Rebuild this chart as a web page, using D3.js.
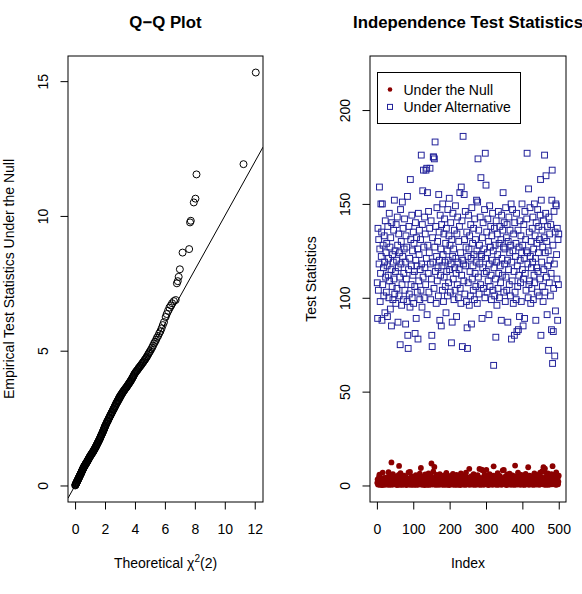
<!DOCTYPE html>
<html>
<head>
<meta charset="utf-8">
<style>
    body { margin: 0; background: #fff; }
    svg { font-family: "Liberation Sans", Arial, sans-serif; }
    .box { fill: none; stroke: #000; stroke-width: 1 }
    .qqpt { fill: none; stroke: #000; stroke-width: 1 }
    .nullpt { fill: #8b0000 }
    .altpt { fill: none; stroke: #22229a; stroke-width: 1 }
</style>
</head>
<body>
<svg id="chart" width="582" height="594"></svg>
<script src="https://cdn.jsdelivr.net/npm/d3@7"></script>
<script>
// ---- Q-Q plot data (sorted theoretical vs sorted empirical) ----
let qqTheoretical = [
    0.01,0.02,0.04,0.05,0.06,0.08,0.09,0.11,0.12,0.13,0.15,0.17,0.18,0.19,0.21,0.23,0.24,0.26,0.27,0.29,
    0.30,0.32,0.34,0.35,0.37,0.39,0.40,0.42,0.43,0.45,0.47,0.48,0.50,0.52,0.54,0.55,0.57,0.59,0.60,0.62,
    0.64,0.66,0.68,0.69,0.71,0.73,0.75,0.77,0.79,0.81,0.83,0.85,0.87,0.89,0.91,0.93,0.96,0.98,
    1.00,1.02,1.05,1.07,1.09,1.12,1.14,1.16,1.19,1.21,1.23,1.26,1.28,1.30,1.33,1.35,1.38,1.40,1.42,1.45,
    1.47,1.50,1.52,1.54,1.57,1.59,1.62,1.64,1.66,1.69,1.71,1.73,1.76,1.78,1.80,1.83,1.85,1.87,1.89,1.91,
    1.93,1.95,1.96,1.98,1.99,
    2.01,2.04,2.06,2.09,2.12,2.14,2.17,2.20,2.22,2.25,2.28,2.30,2.33,2.36,2.38,2.41,2.44,2.47,2.49,2.52,
    2.55,2.57,2.60,2.63,2.65,2.68,2.71,2.73,2.76,2.79,2.81,2.84,2.87,2.89,2.92,2.94,2.97,2.99,
    3.02,3.05,3.08,3.11,3.14,3.17,3.20,3.23,3.27,3.30,3.33,3.36,3.40,3.43,3.46,3.49,3.52,3.55,3.58,3.61,
    3.64,3.67,3.70,3.73,3.76,3.79,3.82,3.85,3.88,3.91,3.94,3.98,
    4.02,4.06,4.10,4.14,4.19,4.23,4.27,4.31,4.36,4.40,4.45,4.49,4.54,4.58,4.63,4.67,4.72,4.76,4.81,4.86,
    4.91,4.96,
    5.02,5.08,5.15,5.21,5.28,5.34,5.41,5.47,5.55,5.62,5.70,5.78,5.86,5.94,
    6.05,6.12,6.21,6.30,6.40,6.48,6.60,6.72,
    6.80,6.86,6.92,7.00,7.18,7.62,7.68,7.73,7.93,8.04,8.11,11.25,12.07]

let qqEmpirical = [
    0.00,0.02,0.03,0.05,0.07,0.08,0.10,0.12,0.13,0.15,0.17,0.18,0.20,0.22,0.23,0.26,0.27,0.29,0.31,0.33,
    0.35,0.36,0.39,0.40,0.42,0.44,0.46,0.48,0.50,0.52,0.54,0.56,0.58,0.60,0.63,0.64,0.66,0.68,0.70,0.71,
    0.73,0.75,0.77,0.78,0.80,0.82,0.83,0.85,0.87,0.89,0.91,0.93,0.95,0.97,0.99,1.01,1.04,1.06,
    1.08,1.10,1.12,1.14,1.16,1.18,1.20,1.22,1.24,1.26,1.28,1.31,1.33,1.35,1.38,1.40,1.43,1.45,1.48,1.51,
    1.53,1.56,1.59,1.61,1.64,1.67,1.69,1.72,1.75,1.78,1.81,1.84,1.87,1.90,1.92,1.95,1.98,2.01,2.04,2.06,
    2.09,2.11,2.13,2.16,2.18,
    2.21,2.23,2.27,2.29,2.33,2.37,2.39,2.41,2.45,2.49,2.51,2.53,2.58,2.60,2.62,2.66,2.70,2.72,2.74,2.78,
    2.82,2.84,2.86,2.90,2.94,2.95,2.99,3.03,3.05,3.07,3.11,3.14,3.16,3.18,3.22,3.25,3.26,3.30,
    3.32,3.35,3.37,3.40,3.42,3.45,3.47,3.50,3.52,3.55,3.57,3.60,3.62,3.64,3.67,3.69,3.72,3.74,3.77,3.79,
    3.82,3.84,3.87,3.89,3.92,3.95,3.98,4.01,4.04,4.07,4.11,4.15,
    4.18,4.21,4.24,4.27,4.30,4.34,4.37,4.40,4.43,4.46,4.50,4.53,4.57,4.60,4.64,4.67,4.71,4.75,4.79,4.84,
    4.89,4.94,
    4.99,5.05,5.12,5.19,5.27,5.33,5.40,5.48,5.55,5.64,5.72,5.83,5.95,6.06,
    6.25,6.36,6.48,6.60,6.68,6.76,6.84,6.88,
    7.50,7.58,7.74,8.02,8.64,8.77,9.76,9.82,10.50,10.64,11.54,11.92,15.32]

let qqRefLine = { intercept: 0, slope: 1 }
let qqXTicks = [0, 2, 4, 6, 8, 10, 12]
let qqYTicks = [0, 5, 10, 15]

// ---- Independence test statistics, in index order 1..500 ----
let nullStats = [
    1.4,3.2,0.5,2.1,0.8,4.6,5.8,1.1,0.3,2.7,1.9,0.6,3.5,1.2,0.2,6.9,2.4,0.9,1.6,4.1,0.4,2.9,1.3,0.7,3.8,
    2.2,0.5,1.8,4.4,0.9,3.0,7.1,1.5,0.3,2.6,5.2,1.0,0.7,3.3,12.3,1.9,0.4,2.5,6.1,1.2,0.8,3.9,2.0,0.6,1.4,
    0.9,2.8,4.9,1.3,0.2,3.6,1.7,0.5,2.3,5.7,10.4,1.1,0.4,3.1,6.6,1.8,0.7,2.6,4.0,0.3,1.5,3.4,0.8,2.1,5.3,
    1.0,0.6,2.9,1.6,4.5,0.2,2.4,1.3,3.7,0.9,1.9,7.0,0.5,2.7,1.2,7.2,3.2,0.4,1.8,4.8,0.7,2.3,1.1,3.5,0.3,
    2.0,4.2,0.8,1.5,3.0,0.6,5.5,1.9,0.3,2.6,1.2,4.1,0.9,2.2,0.5,3.8,1.4,6.3,0.7,2.8,9.3,1.0,3.3,0.4,1.7,
    4.7,0.8,2.5,1.3,3.4,0.2,2.0,5.9,1.1,0.6,3.1,1.8,0.4,4.4,2.3,0.9,6.5,1.5,0.3,2.7,3.9,1.0,0.7,5.0,11.7,
    1.6,4.0,0.5,2.1,7.4,1.2,3.6,9.9,0.8,2.4,1.4,0.3,3.2,5.6,0.9,1.9,2.9,0.6,4.3,1.1,0.4,2.6,6.0,1.7,0.8,
    3.0,1.3,0.5,4.8,2.2,0.9,1.6,3.7,0.3,5.4,1.0,2.5,0.7,3.4,1.8,6.7,0.4,2.0,1.2,4.1,0.6,2.8,1.5,0.2,3.3,
    1.1,5.1,0.7,2.3,1.4,3.9,0.5,1.9,6.2,0.9,2.6,1.2,4.5,0.3,1.7,3.1,0.8,2.2,5.7,1.0,0.4,2.9,1.5,4.0,0.6,
    2.4,1.3,3.5,0.2,1.8,6.4,0.9,2.7,1.1,4.6,0.5,2.0,3.2,0.7,1.6,5.3,1.0,0.3,2.5,6.8,1.4,0.8,3.8,1.2,2.1,
    0.6,4.2,1.7,8.9,0.4,2.9,1.1,3.6,0.8,5.0,2.3,0.5,1.5,3.3,0.9,6.1,2.0,1.3,0.3,4.4,1.9,0.7,2.6,3.0,1.2,
    0.5,5.5,2.2,1.0,3.7,0.6,8.8,1.4,2.8,0.3,4.1,1.8,8.4,0.9,2.4,8.1,1.1,3.4,0.4,2.0,5.8,1.5,0.8,3.1,1.3,
    8.3,0.7,2.5,1.6,4.3,0.2,1.9,3.6,1.0,6.0,0.5,2.7,1.3,4.9,0.8,2.1,3.2,0.4,1.5,5.2,10.2,1.1,2.9,0.6,3.8,
    1.7,0.9,4.6,2.2,0.3,1.4,6.6,2.6,1.0,3.5,0.5,1.8,5.1,0.8,2.3,1.2,4.0,0.4,2.9,1.6,8.1,0.7,3.3,8.3,1.1,
    2.0,0.6,4.7,1.5,3.1,0.2,2.4,5.9,1.0,1.8,0.5,3.7,2.7,1.3,6.3,0.8,2.1,4.2,0.4,1.6,3.0,1.1,5.4,0.7,2.5,
    1.4,3.9,0.3,2.2,10.6,1.2,4.8,0.9,2.8,1.7,0.5,3.4,6.9,1.0,2.0,0.6,4.4,1.5,3.2,0.4,2.6,5.6,1.3,0.8,3.6,
    1.9,0.5,2.9,4.5,1.1,0.3,3.5,1.6,6.2,0.7,2.3,1.2,4.1,0.9,2.7,9.7,1.4,0.4,3.0,5.3,1.8,0.6,2.4,1.0,3.8,
    0.7,1.5,4.9,2.1,0.3,3.3,1.2,6.5,0.8,2.6,1.7,4.3,0.5,2.0,1.1,3.6,0.9,5.7,1.4,2.8,0.4,3.9,1.9,6.8,0.6,
    2.5,1.3,4.4,0.8,7.6,1.6,3.1,9.7,0.5,2.2,7.3,9.0,1.0,3.7,0.3,2.0,5.1,1.2,0.7,6.4,2.9,1.5,0.4,3.4,1.8,
    0.9,4.6,2.3,1.1,6.0,0.6,3.0,10.3,1.4,5.5,0.8,2.7,1.9,4.2,0.5,3.2,1.2,7.0,0.4,2.4,1.6,3.9,0.7,2.0,5.2]

let altStats = [
    108,89,137,104,131,118,159,126,98,113,150,122,135,88,150,107,128,116,101,133,119,92,141,111,124,
    103,129,117,90,138,112,121,100,145,109,127,94,132,115,85,140,106,123,99,119,136,110,152,102,125,
    114,97,139,120,105,143,128,87,116,134,101,124,111,75,147,118,130,96,107,151,122,137,99,113,126,
    142,104,119,86,133,110,127,98,154,80,73,115,138,102,121,95,163,131,107,117,144,100,125,112,135,
    97,129,114,106,81,140,120,89,132,117,103,126,78,145,109,123,136,99,115,131,104,176,118,95,139,
    157,111,168,127,100,143,116,134,107,168,121,169,91,156,128,113,146,103,124,137,169,118,99,141,110,
    80,74,132,119,175,175,105,174,127,183,114,138,97,122,148,109,130,116,101,155,135,120,88,144,112,
    126,85,139,117,104,150,123,98,134,111,142,119,106,129,92,137,114,125,101,147,120,108,133,153,115,
    128,103,140,118,76,131,87,122,145,110,126,99,136,116,104,149,121,113,90,134,107,143,119,100,130,
    115,138,156,105,124,97,159,112,141,74,120,186,118,109,155,131,102,146,117,127,98,135,84,73,122,
    108,144,126,96,133,114,101,139,121,86,148,110,129,117,104,137,123,99,142,113,131,106,119,152,125,
    97,151,174,111,136,102,128,118,143,107,164,123,122,89,132,116,140,105,126,113,147,100,177,121,160,
    114,135,103,124,142,109,130,91,118,149,106,127,138,112,99,133,120,145,104,125,64,116,137,101,128,
    110,79,141,119,96,134,123,105,146,113,129,100,138,117,108,131,88,144,121,112,136,156,127,103,140,
    118,126,98,148,111,132,104,139,120,87,130,115,143,107,124,136,101,128,150,78,119,109,147,125,97,
    134,114,80,140,103,122,129,99,145,82,117,106,136,83,112,127,90,141,120,108,133,98,124,150,115,
    128,85,110,139,121,89,146,113,131,104,125,142,177,124,118,100,158,107,135,109,148,122,97,130,116,
    105,137,119,143,99,126,112,150,108,133,121,88,140,116,129,103,147,114,124,138,101,131,110,144,163,
    80,152,119,136,106,127,98,141,115,132,176,103,124,145,165,111,130,91,138,117,125,72,143,108,134,
    120,101,139,113,83,152,168,65,128,82,105,146,118,69,135,93,150,149,123,110,137,88,131,107,134]

let idxTicks = [0, 100, 200, 300, 400, 500]
let statTicks = [0, 50, 100, 150, 200]
let statLimits = [0, 220]
let legendLabels = ["Under the Null", "Under Alternative"]

// ---- layout ----
let svg = d3.select("#chart")
let qqBox = { left: 68, right: 263, top: 56, bottom: 502 }
let ixBox = { left: 370, right: 566, top: 56, bottom: 502 }

// R style: pad the data range by 4% on each side
function pad(lo, hi) {
    let d = (hi - lo) * 0.04
    return [lo - d, hi + d]
}

function drawFrame(box, x, y, xTicks, yTicks, title, xTitle, yTitle, clipId) {
    let g = svg.append("g")

    g.append("clipPath").attr("id", clipId)
        .append("rect")
        .attr("x", box.left).attr("y", box.top)
        .attr("width", box.right - box.left).attr("height", box.bottom - box.top)

    let xa = g.append("g")
        .attr("transform", "translate(0," + box.bottom + ")")
        .call(d3.axisBottom(x).tickValues(xTicks).tickSize(7.5).tickFormat(d3.format("d")))
    let ya = g.append("g")
        .attr("transform", "translate(" + box.left + ",0)")
        .call(d3.axisLeft(y).tickValues(yTicks).tickSize(7.5).tickFormat(d3.format("d")))

    for (let a of [xa, ya]) {
        a.attr("font-size", 14).attr("font-family", null).attr("color", "#000")
        a.select(".domain").remove()
    }
    xa.selectAll("text").attr("y", 32).attr("dy", null)
    // y tick labels are parallel to the axis, as in base R
    ya.selectAll("text")
        .attr("transform", "rotate(-90)")
        .attr("x", 0).attr("y", -20).attr("dy", null)
        .attr("text-anchor", "middle")

    g.append("rect").attr("class", "box")
        .attr("x", box.left).attr("y", box.top)
        .attr("width", box.right - box.left).attr("height", box.bottom - box.top)

    let cx = (box.left + box.right) / 2
    g.append("text")
        .attr("x", cx).attr("y", 28)
        .attr("text-anchor", "middle")
        .attr("font-size", 16.8).attr("font-weight", "bold")
        .text(title)

    let xt = g.append("text")
        .attr("x", cx).attr("y", 568)
        .attr("text-anchor", "middle")
        .attr("font-size", 14)
    xTitle(xt)

    g.append("text")
        .attr("transform", "translate(" + (box.left - 54) + "," + ((box.top + box.bottom) / 2) + ") rotate(-90)")
        .attr("text-anchor", "middle")
        .attr("font-size", 14)
        .text(yTitle)

    return g
}

// ---- left: Q-Q plot ----
let qqX = d3.scaleLinear().domain(pad(...d3.extent(qqTheoretical))).range([qqBox.left, qqBox.right])
let qqY = d3.scaleLinear().domain(pad(...d3.extent(qqEmpirical))).range([qqBox.bottom, qqBox.top])

drawFrame(qqBox, qqX, qqY, qqXTicks, qqYTicks, "Q\u2212Q Plot",
    t => {
        t.append("tspan").text("Theoretical \u03c7")
        t.append("tspan").attr("font-size", 10).attr("dy", -6).text("2")
        t.append("tspan").attr("dy", 6).text("(2)")
    },
    "Empirical Test Statistics Under the Null", "clipQQ")

let qqLayer = svg.append("g").attr("clip-path", "url(#clipQQ)")

let refLine = d3.line()
    .x(d => qqX(d))
    .y(d => qqY(qqRefLine.intercept + qqRefLine.slope * d))

qqLayer.append("path")
    .datum(qqX.domain())
    .attr("d", refLine)
    .attr("fill", "none")
    .attr("stroke", "#000")
    .attr("stroke-width", 1)

qqLayer.selectAll("circle")
    .data(d3.zip(qqTheoretical, qqEmpirical))
    .join("circle")
    .attr("class", "qqpt")
    .attr("cx", d => qqX(d[0]))
    .attr("cy", d => qqY(d[1]))
    .attr("r", 3.5)

// ---- right: statistics by index ----
let ixX = d3.scaleLinear().domain(pad(1, nullStats.length)).range([ixBox.left, ixBox.right])
let ixY = d3.scaleLinear().domain(pad(...statLimits)).range([ixBox.bottom, ixBox.top])

drawFrame(ixBox, ixX, ixY, idxTicks, statTicks, "Independence Test Statistics",
    t => t.text("Index"), "Test Statistics", "clipIX")

let ixLayer = svg.append("g").attr("clip-path", "url(#clipIX)")

ixLayer.append("g").selectAll("circle")
    .data(nullStats)
    .join("circle")
    .attr("class", "nullpt")
    .attr("cx", (d, i) => ixX(i + 1))
    .attr("cy", d => ixY(d))
    .attr("r", 2.9)

let sq = 5.8
ixLayer.append("g").selectAll("rect")
    .data(altStats)
    .join("rect")
    .attr("class", "altpt")
    .attr("x", (d, i) => ixX(i + 1) - sq / 2)
    .attr("y", d => ixY(d) - sq / 2)
    .attr("width", sq).attr("height", sq)

// legend
let lg = svg.append("g").attr("transform", "translate(377.5,72.5)")
lg.append("rect")
    .attr("width", 143).attr("height", 51)
    .attr("fill", "#fff").attr("stroke", "#000")

let rows = lg.selectAll("g.row")
    .data(legendLabels)
    .join("g")
    .attr("transform", (d, i) => "translate(0," + (17 + i * 17.4) + ")")

rows.append("text")
    .attr("x", 26).attr("y", 5)
    .attr("font-size", 14)
    .text(d => d)

rows.filter((d, i) => i === 0).append("circle")
    .attr("class", "nullpt")
    .attr("cx", 12.5).attr("cy", 0).attr("r", 2.3)

rows.filter((d, i) => i === 1).append("rect")
    .attr("class", "altpt")
    .attr("x", 10).attr("y", -2.5).attr("width", 5).attr("height", 5)
</script>
</body>
</html>
